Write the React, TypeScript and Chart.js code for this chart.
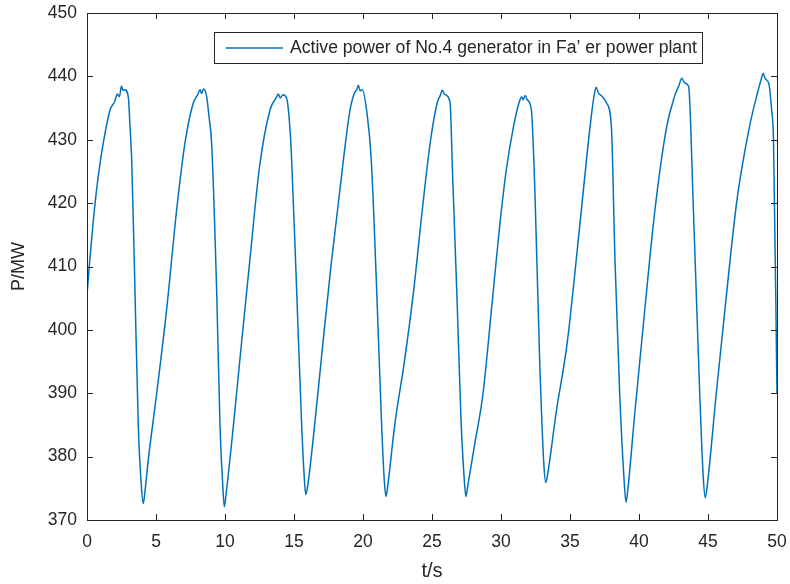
import React, { useEffect, useRef } from "react";
import { Chart, registerables } from "chart.js";

Chart.register(...registerables);

// time (s)
const timeS: number[] = [
  0, 0.2, 0.46, 0.8, 1.18, 1.67, 2.0, 2.2, 2.35, 2.5, 2.6, 2.75, 3.0, 3.12, 3.24, 3.48, 3.72, 3.95, 4.08,
  4.2, 4.44, 5.05, 5.77, 6.5, 7.1, 7.7, 8.0, 8.2, 8.3, 8.45, 8.67, 8.85, 9.03, 9.4, 9.64, 9.85, 9.95,
  10.1, 10.6, 11.2, 11.8, 12.5, 13.26, 13.7, 13.86, 14.0, 14.2, 14.47, 14.7, 14.83, 15.2, 15.56, 15.75, 15.85,
  16.0, 16.4, 17.1, 17.7, 18.3, 19.06, 19.4, 19.55, 19.66, 19.8, 19.95, 20.3, 20.6, 21.0, 21.35, 21.55, 21.67,
  21.8, 22.3, 23.0, 23.65, 24.3, 24.9, 25.4, 25.6, 25.75, 25.9, 26.3, 26.5, 26.8, 27.1, 27.35, 27.46,
  27.6, 28.1, 28.7, 29.3, 29.9, 30.4, 30.9, 31.3, 31.5, 31.6, 31.75, 31.9, 32.2, 32.46, 32.8, 33.1, 33.24,
  33.4, 34.0, 34.8, 35.7, 36.45, 36.75, 36.9, 37.05, 37.3, 37.65, 38.0, 38.26, 38.6, 38.9, 39.06,
  39.2, 39.7, 40.3, 41.16, 42.0, 42.6, 42.9, 43.1, 43.3, 43.6, 43.75, 43.9, 44.4, 44.65, 44.8,
  44.95, 45.6, 46.35, 47.1, 48.0, 48.6, 48.85, 49.0, 49.15, 49.4, 49.6, 49.75, 50.0,
];

// active power (MW)
const powerMW: number[] = [
  405.5, 411, 417.3, 424, 429.5, 434.7, 436, 437.2, 436.8, 438.5, 437.8, 437.9, 436.6, 432, 426.8, 405.8, 384.7, 375, 372.6,
  374.5, 379.5, 390, 403.2, 419, 429.5, 435.8, 437, 437.9, 437.3, 438, 436.8, 433.5, 429.5, 405.8, 384.7, 375, 372.1,
  374.5, 384.7, 398, 411, 425.7, 434.7, 436.6, 437.2, 436.6, 437.1, 436.5, 432, 426.8, 405.8, 384.7, 376.5, 374,
  375.5, 383, 398, 410.5, 421.6, 434.7, 437.5, 437.9, 438.6, 437.7, 437.9, 434, 426.8, 405.8, 385, 376, 373.7,
  375.5, 385, 395, 405.8, 419, 430, 436, 437, 437.8, 437.2, 436, 424, 405.8, 386, 376, 373.7,
  375.5, 382, 390, 403, 416.3, 425.5, 432, 435.8, 436.8, 436.3, 437, 436.3, 434.7, 421.6, 395.3, 379, 375.9,
  377.5, 387, 398, 416.3, 432, 437, 438.3, 437.4, 436.9, 435.8, 432, 411, 390, 377, 372.8,
  375, 387, 400.5, 419, 432, 437, 438.6, 439.7, 439, 438.4, 432, 421.6, 390, 377, 373.5,
  375.5, 390, 405.8, 420.5, 432, 437.5, 439.5, 440.5, 439.6, 438.9, 435, 429.5, 390,
];

const xTicks: number[] = [0, 5, 10, 15, 20, 25, 30, 35, 40, 45, 50];
const yTicks: number[] = [370, 380, 390, 400, 410, 420, 430, 440, 450];

const seriesLabel = "Active power of No.4 generator in Fa’ er power plant";
const xTitle = "t/s";
const yTitle = "P/MW";

const FONT = '"Liberation Sans", Arial, Helvetica, sans-serif';
const AXIS_COLOR = "#262626";
const LINE_COLOR = "#0072BD";

const framePlugin = {
  id: "matlabFrame",
  afterDraw(chart: any) {
    const { ctx, chartArea } = chart;
    const { left, right, top, bottom } = chartArea;
    const xs = chart.scales.x;
    const ys = chart.scales.y;
    ctx.save();
    ctx.strokeStyle = AXIS_COLOR;
    ctx.lineWidth = 1;
    // box
    ctx.strokeRect(Math.round(left) + 0.5, Math.round(top) + 0.5, Math.round(right - left), Math.round(bottom - top));
    // inward ticks
    const tl = 6;
    ctx.beginPath();
    xTicks.forEach((v) => {
      const px = Math.round(xs.getPixelForValue(v)) + 0.5;
      ctx.moveTo(px, bottom);
      ctx.lineTo(px, bottom - tl);
      ctx.moveTo(px, top);
      ctx.lineTo(px, top + tl);
    });
    yTicks.forEach((v) => {
      const py = Math.round(ys.getPixelForValue(v)) + 0.5;
      ctx.moveTo(left, py);
      ctx.lineTo(left + tl, py);
      ctx.moveTo(right, py);
      ctx.lineTo(right - tl, py);
    });
    ctx.stroke();

    // axis titles
    ctx.fillStyle = AXIS_COLOR;
    ctx.textAlign = "center";
    ctx.textBaseline = "middle";
    ctx.font = `20px ${FONT}`;
    ctx.fillText(xTitle, (left + right) / 2, 571);
    ctx.font = `18px ${FONT}`;
    ctx.save();
    ctx.translate(19, (top + bottom) / 2);
    ctx.rotate(-Math.PI / 2);
    ctx.fillText(yTitle, 0, 0);
    ctx.restore();

    // legend
    const lx = 214, ly = 32, lw = 488, lh = 31;
    ctx.fillStyle = "#ffffff";
    ctx.fillRect(lx, ly, lw, lh);
    ctx.strokeStyle = AXIS_COLOR;
    ctx.lineWidth = 1;
    ctx.strokeRect(lx + 0.5, ly + 0.5, lw, lh);
    ctx.strokeStyle = LINE_COLOR;
    ctx.lineWidth = 1.5;
    ctx.beginPath();
    ctx.moveTo(226, ly + lh / 2 + 0.5);
    ctx.lineTo(283, ly + lh / 2 + 0.5);
    ctx.stroke();
    ctx.fillStyle = AXIS_COLOR;
    ctx.font = `17.6px ${FONT}`;
    ctx.textAlign = "left";
    ctx.textBaseline = "middle";
    ctx.fillText(seriesLabel, 290, ly + lh / 2 + 1);
    ctx.restore();
  },
};

export default function App() {
  const ref = useRef<HTMLCanvasElement | null>(null);

  useEffect(() => {
    if (!ref.current) return;
    const points = timeS.map((t, i) => ({ x: t, y: powerMW[i] }));
    const chart = new Chart(ref.current, {
      type: "line",
      data: {
        datasets: [
          {
            label: seriesLabel,
            data: points,
            borderColor: LINE_COLOR,
            borderWidth: 1.5,
            pointRadius: 0,
            cubicInterpolationMode: "monotone",
            fill: false,
          },
        ],
      },
      options: {
        animation: false,
        responsive: false,
        maintainAspectRatio: false,
        events: [],
        layout: { padding: { left: 0, right: 13, top: 13, bottom: 0 } },
        plugins: { legend: { display: false }, tooltip: { enabled: false } },
        scales: {
          x: {
            type: "linear",
            min: 0,
            max: 50,
            afterFit(scale: any) {
              scale.height = 64;
              scale.paddingLeft = 0;
              scale.paddingRight = 0;
            },
            afterBuildTicks(scale: any) {
              scale.ticks = xTicks.map((v) => ({ value: v }));
            },
            grid: { display: false, drawTicks: false, tickLength: 0 },
            border: { display: false },
            ticks: {
              color: AXIS_COLOR,
              font: { family: FONT, size: 17.5 },
              padding: 12,
              maxRotation: 0,
              autoSkip: false,
            },
          },
          y: {
            type: "linear",
            min: 370,
            max: 450,
            afterFit(scale: any) {
              scale.width = 87;
              scale.paddingTop = 0;
              scale.paddingBottom = 0;
            },
            afterBuildTicks(scale: any) {
              scale.ticks = yTicks.map((v) => ({ value: v }));
            },
            grid: { display: false, drawTicks: false, tickLength: 0 },
            border: { display: false },
            ticks: {
              color: AXIS_COLOR,
              font: { family: FONT, size: 17.5 },
              padding: 10,
              autoSkip: false,
            },
          },
        },
      },
      plugins: [framePlugin],
    });
    return () => chart.destroy();
  }, []);

  return (
    <div style={{ position: "fixed", left: 0, top: 0, width: 790, height: 584, background: "#fff" }}>
      <canvas ref={ref} width={790} height={584} style={{ width: 790, height: 584, display: "block" }} />
    </div>
  );
}
